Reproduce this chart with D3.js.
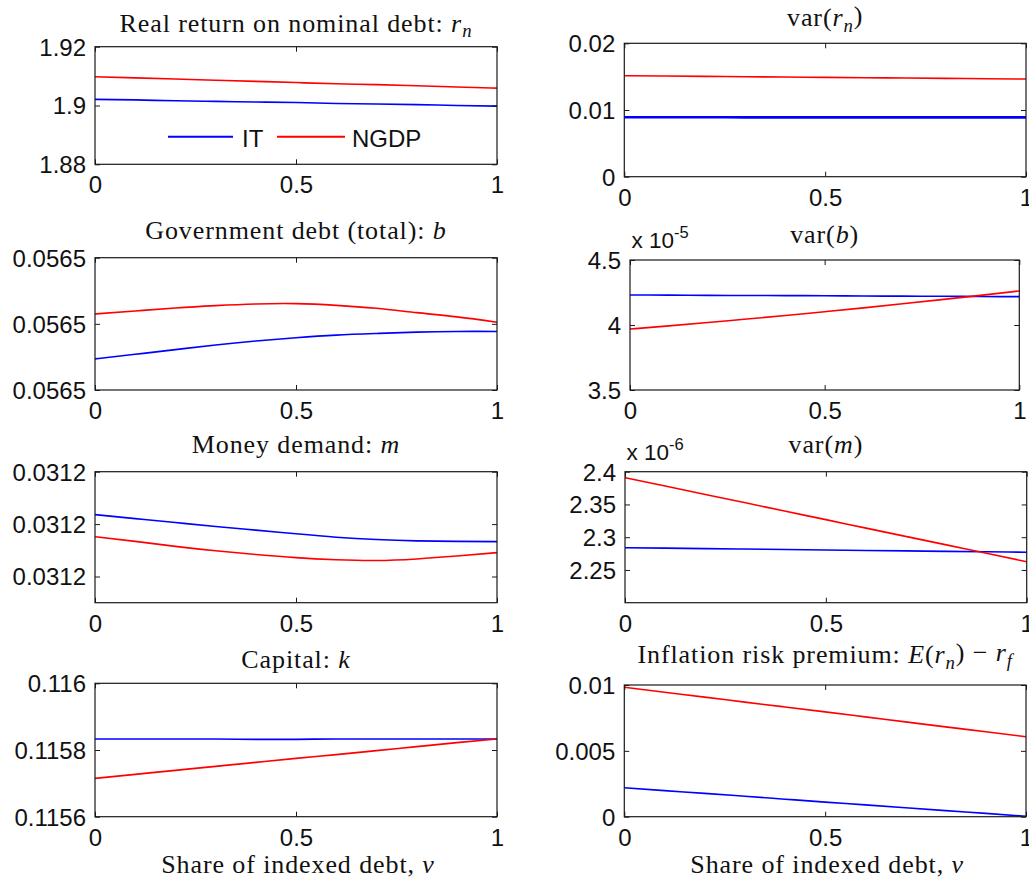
<!DOCTYPE html>
<html>
<head>
<meta charset="utf-8">
<script src="https://cdn.jsdelivr.net/npm/d3@7"></script>
<style>
  html, body { margin: 0; padding: 0; background: #fff; }
  svg { display: block; }
</style>
</head>
<body>
<svg id="chart" width="1029" height="881"></svg>
<script>
// Share of indexed debt (x axis, common to every panel)
const share = [0, 0.1, 0.2, 0.3, 0.4, 0.5, 0.6, 0.7, 0.8, 0.9, 1];

// Real return on nominal debt
const rnIT   = [1.9021, 1.9019, 1.9016, 1.9014, 1.9012, 1.9010, 1.9007, 1.9005, 1.9003, 1.9000, 1.8998];
const rnNGDP = [1.9098, 1.9094, 1.9090, 1.9086, 1.9082, 1.9078, 1.9074, 1.9071, 1.9067, 1.9063, 1.9059];

// Variance of the real return on nominal debt
const varRnIT   = [0.00891, 0.00891, 0.00891, 0.00890, 0.00890, 0.00890, 0.00890, 0.00890, 0.00889, 0.00889, 0.00889];
const varRnNGDP = [0.01514, 0.01509, 0.01504, 0.01499, 0.01494, 0.01489, 0.01484, 0.01479, 0.01474, 0.01469, 0.01464];

// Government debt (total)
const debtIT   = [0.0564894, 0.0564908, 0.0564922, 0.0564936, 0.0564948, 0.0564958, 0.0564966, 0.0564971, 0.0564975, 0.0564977, 0.0564977];
const debtNGDP = [0.0565030, 0.0565039, 0.0565048, 0.0565055, 0.0565060, 0.0565061, 0.0565056, 0.0565047, 0.0565034, 0.0565021, 0.0565005];

// Variance of government debt
const varDebtIT   = [4.231e-5, 4.230e-5, 4.228e-5, 4.227e-5, 4.226e-5, 4.225e-5, 4.223e-5, 4.222e-5, 4.221e-5, 4.219e-5, 4.218e-5];
const varDebtNGDP = [3.969e-5, 3.993e-5, 4.019e-5, 4.046e-5, 4.073e-5, 4.102e-5, 4.132e-5, 4.163e-5, 4.195e-5, 4.228e-5, 4.262e-5];

// Money demand
const moneyIT   = [0.03121036, 0.03121021, 0.03121006, 0.03120991, 0.03120977, 0.03120963, 0.03120950, 0.03120941, 0.03120936, 0.03120934, 0.03120933];
const moneyNGDP = [0.03120952, 0.03120934, 0.03120915, 0.03120898, 0.03120884, 0.03120872, 0.03120864, 0.03120861, 0.03120867, 0.03120878, 0.03120891];

// Variance of money demand
const varMoneyIT   = [2.2840e-6, 2.2833e-6, 2.2826e-6, 2.2819e-6, 2.2812e-6, 2.2805e-6, 2.2798e-6, 2.2791e-6, 2.2784e-6, 2.2777e-6, 2.2770e-6];
const varMoneyNGDP = [2.3910e-6, 2.3782e-6, 2.3653e-6, 2.3525e-6, 2.3396e-6, 2.3268e-6, 2.3139e-6, 2.3011e-6, 2.2883e-6, 2.2754e-6, 2.2626e-6];

// Capital
const capitalIT   = [0.115833, 0.115833, 0.115833, 0.115833, 0.115832, 0.115832, 0.115833, 0.115833, 0.115833, 0.115833, 0.115833];
const capitalNGDP = [0.115715, 0.115727, 0.115739, 0.115751, 0.115763, 0.115775, 0.115786, 0.115798, 0.115810, 0.115822, 0.115833];

// Inflation risk premium
const premiumIT   = [0.00220, 0.00198, 0.00177, 0.00155, 0.00133, 0.00111, 0.00090, 0.00068, 0.00046, 0.00025, 0.00003];
const premiumNGDP = [0.00983, 0.00945, 0.00908, 0.00870, 0.00833, 0.00796, 0.00758, 0.00720, 0.00682, 0.00645, 0.00607];

// Axis limits, ticks and tick labels
const xDomain = [0, 1];
const xTicks = [0, 0.5, 1];
const xTickLabels = ["0", "0.5", "1"];

const rnDomain = [1.88, 1.92];
const rnTicks = [1.88, 1.9, 1.92];
const rnTickLabels = ["1.88", "1.9", "1.92"];

const varRnDomain = [0, 0.02];
const varRnTicks = [0, 0.01, 0.02];
const varRnTickLabels = ["0", "0.01", "0.02"];

const debtDomain = [0.05648, 0.05652];
const debtTicks = [0.05648, 0.05650, 0.05652];
const debtTickLabels = ["0.0565", "0.0565", "0.0565"];

const varDebtDomain = [3.5e-5, 4.5e-5];
const varDebtTicks = [3.5e-5, 4.0e-5, 4.5e-5];
const varDebtTickLabels = ["3.5", "4", "4.5"];

const moneyDomain = [0.031207, 0.031212];
const moneyTicks = [0.031208, 0.031210, 0.031212];
const moneyTickLabels = ["0.0312", "0.0312", "0.0312"];

const varMoneyDomain = [2.2e-6, 2.4e-6];
const varMoneyTicks = [2.25e-6, 2.3e-6, 2.35e-6, 2.4e-6];
const varMoneyTickLabels = ["2.25", "2.3", "2.35", "2.4"];

const capitalDomain = [0.1156, 0.116];
const capitalTicks = [0.1156, 0.1158, 0.116];
const capitalTickLabels = ["0.1156", "0.1158", "0.116"];

const premiumDomain = [0, 0.01];
const premiumTicks = [0, 0.005, 0.01];
const premiumTickLabels = ["0", "0.005", "0.01"];

// Series names and titles (segments: plain text, italic math, subscript)
const seriesNames = ["IT", "NGDP"];
const xAxisLabel = [{ t: "Share of indexed debt, " }, { t: "v", i: true }];

const titleRn = [{ t: "Real return on nominal debt: " }, { t: "r", i: true }, { t: "n", i: true, sub: true }];
const titleVarRn = [{ t: "var(" }, { t: "r", i: true }, { t: "n", i: true, sub: true }, { t: ")" }];
const titleDebt = [{ t: "Government debt (total): " }, { t: "b", i: true }];
const titleVarDebt = [{ t: "var(" }, { t: "b", i: true }, { t: ")" }];
const titleMoney = [{ t: "Money demand: " }, { t: "m", i: true }];
const titleVarMoney = [{ t: "var(" }, { t: "m", i: true }, { t: ")" }];
const titleCapital = [{ t: "Capital: " }, { t: "k", i: true }];
const titlePremium = [{ t: "Inflation risk premium: " }, { t: "E", i: true }, { t: "(" }, { t: "r", i: true },
  { t: "n", i: true, sub: true }, { t: ") \u2212 " }, { t: "r", i: true }, { t: "f", i: true, sub: true }];

// Styles
const colorIT = "#0000ff";
const colorNGDP = "#ff0000";
const sansFont = "'Liberation Sans', Arial, Helvetica, sans-serif";
const serifFont = "'Liberation Serif', 'Times New Roman', serif";
const tickFontSize = 24;
const titleFontSize = 26;

// Panel layout: plot box corners and title baseline
const panels = [
  { box: [95, 46.7, 497, 164.3], titleY: 31.5, title: titleRn,
    domain: rnDomain, ticks: rnTicks, labels: rnTickLabels, it: rnIT, ngdp: rnNGDP, legend: true },
  { box: [624.3, 43.3, 1026, 176.7], titleY: 26, title: titleVarRn,
    domain: varRnDomain, ticks: varRnTicks, labels: varRnTickLabels, it: varRnIT, ngdp: varRnNGDP, itWidth: 2.6 },
  { box: [95, 257.7, 497, 390], titleY: 239.3, title: titleDebt,
    domain: debtDomain, ticks: debtTicks, labels: debtTickLabels, it: debtIT, ngdp: debtNGDP },
  { box: [630, 260, 1019.3, 390], titleY: 243.3, title: titleVarDebt, exponent: "-5",
    domain: varDebtDomain, ticks: varDebtTicks, labels: varDebtTickLabels, it: varDebtIT, ngdp: varDebtNGDP },
  { box: [95, 471.7, 497, 602.7], titleY: 452.7, title: titleMoney,
    domain: moneyDomain, ticks: moneyTicks, labels: moneyTickLabels, it: moneyIT, ngdp: moneyNGDP },
  { box: [625, 471.7, 1026.7, 602.7], titleY: 453.3, title: titleVarMoney, exponent: "-6",
    domain: varMoneyDomain, ticks: varMoneyTicks, labels: varMoneyTickLabels, it: varMoneyIT, ngdp: varMoneyNGDP },
  { box: [95, 683.3, 497, 816.7], titleY: 668.3, title: titleCapital, xlabel: true,
    domain: capitalDomain, ticks: capitalTicks, labels: capitalTickLabels, it: capitalIT, ngdp: capitalNGDP },
  { box: [624.3, 685, 1026, 816.7], titleY: 663.3, title: titlePremium, xlabel: true,
    domain: premiumDomain, ticks: premiumTicks, labels: premiumTickLabels, it: premiumIT, ngdp: premiumNGDP }
];

const svg = d3.select("#chart");

// Writes text segments (plain / italic / subscript) into a text element
function writeSegments(textSel, segments) {
  let lowered = false;
  segments.forEach(seg => {
    const ts = textSel.append("tspan").text(seg.t);
    if (seg.i) ts.attr("font-style", "italic");
    if (seg.sub && !lowered) { ts.attr("dy", "0.3em").attr("font-size", "0.72em"); lowered = true; }
    else if (seg.sub) { ts.attr("font-size", "0.72em"); }
    else if (lowered) { ts.attr("dy", "-0.3em"); lowered = false; }
  });
}

panels.forEach(p => {
  const [x0, y0, x1, y1] = p.box;
  const x = d3.scaleLinear().domain(xDomain).range([x0, x1]);
  const y = d3.scaleLinear().domain(p.domain).range([y1, y0]);
  const g = svg.append("g");

  // Series lines (smooth spline through the sampled points)
  const line = d3.line()
    .x((d, i) => x(share[i]))
    .y(d => y(d))
    .curve(d3.curveNatural);
  g.append("path").datum(p.it)
    .attr("d", line).attr("fill", "none")
    .attr("stroke", colorIT).attr("stroke-width", p.itWidth || 1.6);
  g.append("path").datum(p.ngdp)
    .attr("d", line).attr("fill", "none")
    .attr("stroke", colorNGDP).attr("stroke-width", 1.6);

  // Axes with inward ticks on all four sides
  const bottom = d3.axisBottom(x).tickValues(xTicks)
    .tickFormat((d, i) => xTickLabels[i]).tickSizeInner(-5).tickSizeOuter(0).tickPadding(12);
  const top = d3.axisTop(x).tickValues(xTicks).tickFormat("").tickSizeInner(-5).tickSizeOuter(0);
  const left = d3.axisLeft(y).tickValues(p.ticks)
    .tickFormat((d, i) => p.labels[i]).tickSizeInner(-5).tickSizeOuter(0).tickPadding(9);
  const right = d3.axisRight(y).tickValues(p.ticks).tickFormat("").tickSizeInner(-5).tickSizeOuter(0);

  const axes = [
    g.append("g").attr("transform", `translate(0,${y1})`).call(bottom),
    g.append("g").attr("transform", `translate(0,${y0})`).call(top),
    g.append("g").attr("transform", `translate(${x0},0)`).call(left),
    g.append("g").attr("transform", `translate(${x1},0)`).call(right)
  ];
  axes.forEach(a => {
    a.select(".domain").remove();
    a.selectAll(".tick line").attr("stroke", "#1a1a1a").attr("stroke-width", 1);
    a.selectAll(".tick text")
      .attr("font-family", sansFont).attr("font-size", tickFontSize).attr("fill", "#111");
  });
  axes[2].selectAll(".tick text").attr("dy", "0.35em");

  // Plot box
  g.append("rect")
    .attr("x", x0).attr("y", y0).attr("width", x1 - x0).attr("height", y1 - y0)
    .attr("fill", "none").attr("stroke", "#1a1a1a").attr("stroke-width", 1.2);

  // Title
  const title = g.append("text")
    .attr("x", (x0 + x1) / 2).attr("y", p.titleY)
    .attr("text-anchor", "middle")
    .attr("font-family", serifFont).attr("font-size", titleFontSize)
    .attr("letter-spacing", 0.9).attr("fill", "#111");
  writeSegments(title, p.title);

  // Scale factor shown above the y axis
  if (p.exponent) {
    const t = g.append("text")
      .attr("x", x0 + 1.5).attr("y", y0 - 11.7)
      .attr("font-family", sansFont).attr("font-size", 22.5).attr("fill", "#111");
    t.append("tspan").text("x 10");
    t.append("tspan").attr("dy", -10.5).attr("font-size", 16.5).text(p.exponent);
  }

  // X-axis label
  if (p.xlabel) {
    const xl = g.append("text")
      .attr("x", (x0 + x1) / 2 + 2).attr("y", 872.7)
      .attr("text-anchor", "middle")
      .attr("font-family", serifFont).attr("font-size", titleFontSize)
      .attr("letter-spacing", 0.9).attr("fill", "#111");
    writeSegments(xl, xAxisLabel);
  }

  // Legend (no frame), inside the first panel
  if (p.legend) {
    const ly = y0 + 90;
    const items = [
      { name: seriesNames[0], color: colorIT, lx: x0 + 73, len: 65, tx: x0 + 147 },
      { name: seriesNames[1], color: colorNGDP, lx: x0 + 182, len: 68, tx: x0 + 257 }
    ];
    items.forEach(it => {
      g.append("line")
        .attr("x1", it.lx).attr("x2", it.lx + it.len)
        .attr("y1", ly).attr("y2", ly)
        .attr("stroke", it.color).attr("stroke-width", 2);
      g.append("text")
        .attr("x", it.tx).attr("y", ly + 10)
        .attr("font-family", sansFont).attr("font-size", 24).attr("fill", "#111")
        .text(it.name);
    });
  }
});
</script>
</body>
</html>
